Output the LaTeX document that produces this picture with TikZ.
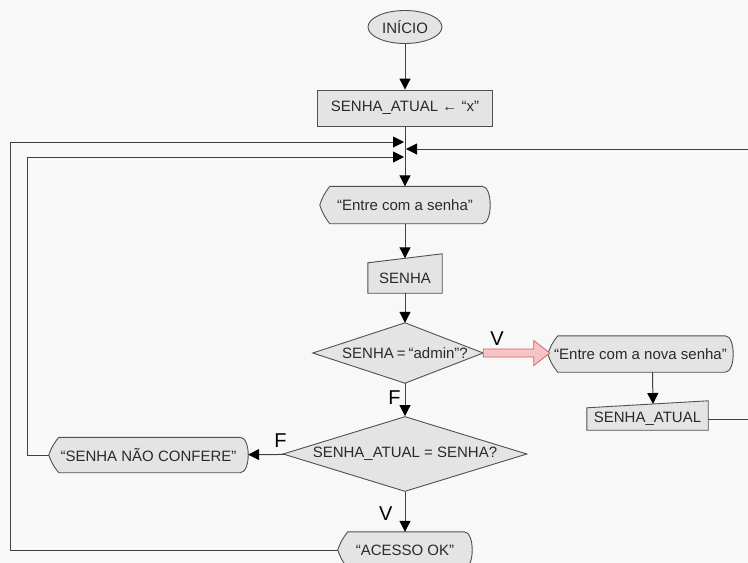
\documentclass[tikz,border=0pt]{standalone}
\usepackage{fontspec}
\setmainfont{Liberation Sans}
\usetikzlibrary{shapes.geometric,arrows.meta,calc}
\definecolor{bgc}{HTML}{F8F8F8}
\definecolor{shpfill}{HTML}{E4E4E4}
\definecolor{edge}{HTML}{505050}
\definecolor{txt}{HTML}{2A2A2A}
\definecolor{pinkf}{HTML}{F6C4C4}
\definecolor{redb}{HTML}{D26464}
\pgfdeclarelayer{bg}
\pgfdeclarelayer{shp}
\pgfsetlayers{bg,shp,main}
\tikzset{
  base/.style={inner sep=0pt, text=txt, font=\fontsize{15}{18}\selectfont},
  boxed/.style={base, draw=edge, fill=shpfill, line width=0.9pt},
  plain/.style={base, draw=none, rectangle},
  shapestyle/.style={draw=edge, fill=shpfill, line width=0.9pt},
  arr/.style={draw=black!75, line width=1pt, -{Triangle[length=11pt,width=11pt,color=black]}},
  ln/.style={draw=black!75, line width=1pt},
  lbl/.style={text=black, font=\fontsize{20}{24}\selectfont, inner sep=0pt}
}
\newcommand{\dispshape}[1]{%
  \draw[shapestyle] ($(#1.north west)+(10,0)$) -- ($(#1.north east)+(-8,0)$)
    .. controls +(10.7,0) and +(10.7,0) .. ($(#1.south east)+(-8,0)$)
    -- ($(#1.south west)+(10,0)$) to[bend left=10] (#1.west)
    to[bend left=10] ($(#1.north west)+(10,0)$) -- cycle;}
\newcommand{\manshape}[2]{%
  \draw[shapestyle] (#1.south west) -- (#1.north west) -- ($(#1.north east)+(0,-#2)$)
    -- (#1.south east) -- cycle;}
\begin{document}
\begin{tikzpicture}[x=1pt,y=-1pt]
\begin{pgfonlayer}{bg}
\fill[bgc] (0,0) rectangle (748,563);
\end{pgfonlayer}
\useasboundingbox (0,0) rectangle (748,563);
% nodes
\node[boxed, ellipse, minimum width=74pt, minimum height=33pt] (start) at (405,27) {INÍCIO};
\node[boxed, rectangle, minimum width=175pt, minimum height=36pt] (init) at (405,108) {SENHA\_ATUAL ← “x”};
\node[plain, minimum width=170pt, minimum height=37pt] (in1) at (405,205) {“Entre com a senha”};
\node[plain, minimum width=74pt, minimum height=30pt] (senha) at (405,278) {SENHA};
\node[plain, minimum width=170pt, minimum height=60pt] (d1) at (405,353) {SENHA\hspace{3pt}=\hspace{3pt}“admin”?};
\node[plain, minimum width=185pt, minimum height=36pt] (nova) at (640.5,354) {“Entre com a nova senha”};
\node[plain, minimum width=121pt, minimum height=22pt] (sa) at (647.5,419) {SENHA\_ATUAL};
\node[boxed, diamond, aspect=3.25, minimum width=244pt, minimum height=75pt] (d2) at (405,454) {SENHA\_ATUAL = SENHA?};
\node[plain, minimum width=199pt, minimum height=35pt] (nconf) at (148.5,455) {“SENHA NÃO CONFERE”};
\node[plain, minimum width=134pt, minimum height=36pt] (ok) at (405,550) {“ACESSO OK”};
\coordinate (d1e) at ($(d1.east)+(-7,0)$);
\begin{pgfonlayer}{shp}
\dispshape{in1}
\dispshape{nova}
\dispshape{nconf}
\dispshape{ok}
\manshape{senha}{9}
\manshape{sa}{7}
\draw[shapestyle] ($(d1.west)+(-7,0)$) -- (d1.north) -- (d1e) -- (d1.south) -- cycle;
\end{pgfonlayer}
% junction coordinates
\coordinate (j1) at (404,142);
\coordinate (j2) at (406,149);
\coordinate (j3) at (404,157);
\coordinate (L1) at (10,142);
\coordinate (L3) at (27,157);
\coordinate (R2) at (770,149);
% connectors
\draw[arr] (start) -- (init);
\draw[arr] (init) -- (in1);
\draw[arr] (in1) -- ($(senha.north)+(0,-4.5)$);
\draw[arr] (senha) -- (d1.north);
\draw[arr] (d1.south) -- (d2) node[lbl, pos=0.45, left=4pt] {F};
\draw[arr] (d2) -- (nconf) node[lbl, pos=0.1, above=6pt] {F};
\draw[arr] (d2) -- (ok) node[lbl, pos=0.55, left=12pt] {V};
\draw[arr] ($(nova.south)+(12,0)$) -- ($(sa.north)+(5.5,-3.8)$);
\draw[ln] (nconf.west) -| (L3);
\draw[arr] (L3) -- (j3);
\draw[ln] (ok.west) -| (L1);
\draw[arr] (L1) -- (j1);
\draw[ln] (sa.east) -| (R2);
\draw[arr] (R2) -- (j2);
% red fat arrow
\draw[draw=redb, fill=pinkf, line width=0.8pt, line join=miter]
  let \p1=(d1e), \p2=(nova.west) in
  (\x1,\y1-4) -- (\x2-14,\y1-4) -- (\x2-14,\y1-12.5) -- (\x2+2,\y1) -- (\x2-14,\y1+12.5)
  -- (\x2-14,\y1+4) -- (\x1,\y1+4) -- cycle;
\node[lbl] (vlab) at (497,339) {V};
\end{tikzpicture}
\end{document}
